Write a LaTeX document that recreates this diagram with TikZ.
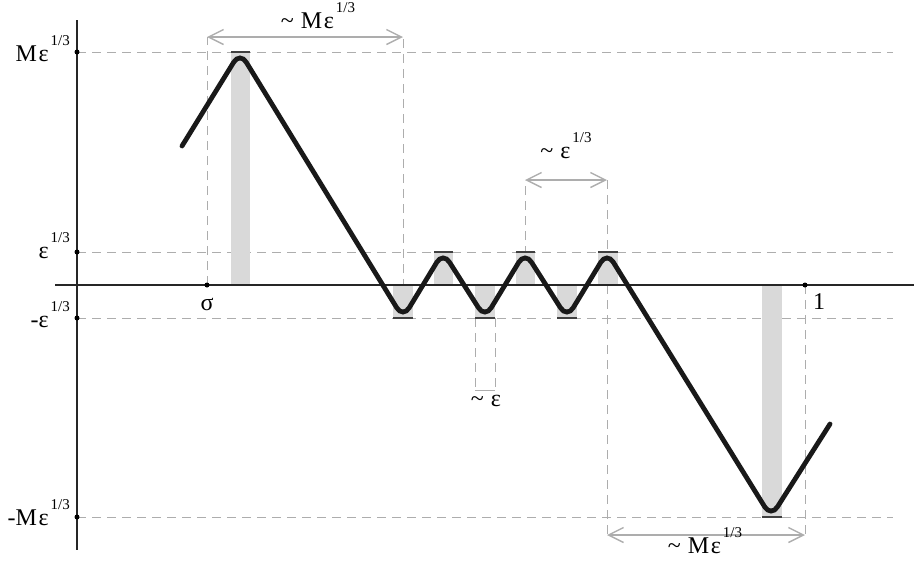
\documentclass[tikz,border=0pt]{standalone}
\usepackage{fontspec}
\setmainfont{Liberation Serif}
\usetikzlibrary{arrows.meta}
\newcommand\pw[1]{\kern2pt\raisebox{15.5pt}{\fontsize{15}{16}\selectfont #1}}
\newcommand\tl{\textasciitilde\kern7pt}
\begin{document}
\begin{tikzpicture}[x=1pt,y=-1pt,
 lbl/.style={font=\fontsize{24}{27}\selectfont, inner sep=0pt},
 guide/.style={draw=black!32, line width=0.9pt, dash pattern=on 9pt off 6pt},
 dim/.style={draw=black!32, line width=1.4pt, {Straight Barb[length=15pt,width=15pt]}-{Straight Barb[length=15pt,width=15pt]}},
 bar/.style={fill=black!15},
 capline/.style={draw=black!75, line width=1.8pt},
 curve/.style={draw=black!90, line width=4.8pt, rounded corners=12pt, line cap=round},
 dot/.style={circle, fill=black, inner sep=0pt, minimum size=5pt}]
\useasboundingbox (0,0) rectangle (914,568);

% key coordinates
\coordinate (yM) at (77,52);   \coordinate (yMr) at (893,52);
\coordinate (ye) at (77,252);  \coordinate (yer) at (893,252);
\coordinate (yme) at (77,318); \coordinate (ymer) at (893,318);
\coordinate (ymM) at (77,517); \coordinate (ymMr) at (893,517);
\coordinate (sig) at (207,285); \coordinate (one) at (805,285);

% horizontal guides
\draw[guide] (yM) -- (yMr);
\draw[guide] (ye) -- (yer);
\draw[guide] (yme) -- (ymer);
\draw[guide] (ymM) -- (ymMr);

% vertical guides
\coordinate (a1) at (207,37); \coordinate (a2) at (403,37); \coordinate (t2) at (403,318);
\coordinate (b1) at (525,180); \coordinate (b2) at (607,180);
\coordinate (b1d) at (525,285); \coordinate (b2d) at (607,535);
\coordinate (c2) at (805,535);
\draw[guide] (sig) -- (a1);
\draw[guide] (t2) -- (a2);
\draw[guide] (b1d) -- (b1);
\draw[guide] (b2) -- (b2d);
\draw[guide] (one) -- (c2);
\coordinate (e1) at (475,318); \coordinate (e2) at (495,318);
\coordinate (e1b) at (475,390); \coordinate (e2b) at (495,390);
\draw[guide] (e1) -- (e1b);
\draw[guide] (e2) -- (e2b);
\draw[draw=black!32, line width=0.9pt] (e1b) -- (e2b);

% bars
\fill[bar] (231,52) rectangle (250,285);
\fill[bar] (393,285) rectangle (413,318);
\fill[bar] (434,252) rectangle (453,285);
\fill[bar] (475,285) rectangle (495,318);
\fill[bar] (516,252) rectangle (535,285);
\fill[bar] (557,285) rectangle (577,318);
\fill[bar] (598,252) rectangle (618,285);
\fill[bar] (762,285) rectangle (782,517);

% caps
\draw[capline] (231,52) -- (250,52);
\draw[capline] (393,318) -- (413,318);
\draw[capline] (434,252) -- (453,252);
\draw[capline] (475,318) -- (495,318);
\draw[capline] (516,252) -- (535,252);
\draw[capline] (557,318) -- (577,318);
\draw[capline] (598,252) -- (618,252);
\draw[capline] (762,517) -- (782,517);

% axes
\coordinate (xl) at (55,285); \coordinate (xr) at (914,285);
\coordinate (yt) at (77,20); \coordinate (yb) at (77,550);
\draw[black!85, line width=1.2pt] (xl) -- (xr);
\draw[black!85, line width=1.2pt] (yt) -- (yb);

% curve
\draw[curve] (182,146) -- (240,52) -- (403,318) -- (443,252) -- (485,318) -- (525,252)
  -- (567,318) -- (607,252) -- (771,517) -- (830,424);

% dots
\node[dot] (dM) at (yM) {};
\node[dot] (de) at (ye) {};
\node[dot] (dme) at (yme) {};
\node[dot] (dmM) at (ymM) {};
\node[dot] (ds) at (sig) {};
\node[dot] (d1) at (one) {};

% dimension arrows
\draw[dim] (a1) -- (a2);
\draw[dim] (b1) -- (b2);
\draw[dim] (b2d) -- (c2);

% labels
\node[lbl, anchor=base east] (lM) at (70,61) {M\kern1.5ptε\pw{1/3}};
\node[lbl, anchor=base east] (le) at (70,258) {ε\pw{1/3}};
\node[lbl, anchor=base east] (lme) at (70,327) {-ε\pw{1/3}};
\node[lbl, anchor=base east] (lmM) at (70,525) {-M\kern1.5ptε\pw{1/3}};
\node[lbl, anchor=base] (ls) at (207,310) {σ};
\node[lbl, anchor=base west] (l1) at (813,309) {1};
\node[lbl, anchor=base] (top) at (318,28) {\tl M\kern1.5ptε\pw{1/3}};
\node[lbl, anchor=base] (mid) at (566,158) {\tl ε\pw{1/3}};
\node[lbl, anchor=base] (eps) at (486,406) {\tl ε};
\node[lbl, anchor=base] (bot) at (705,553) {\tl M\kern1.5ptε\pw{1/3}};
\end{tikzpicture}
\end{document}
